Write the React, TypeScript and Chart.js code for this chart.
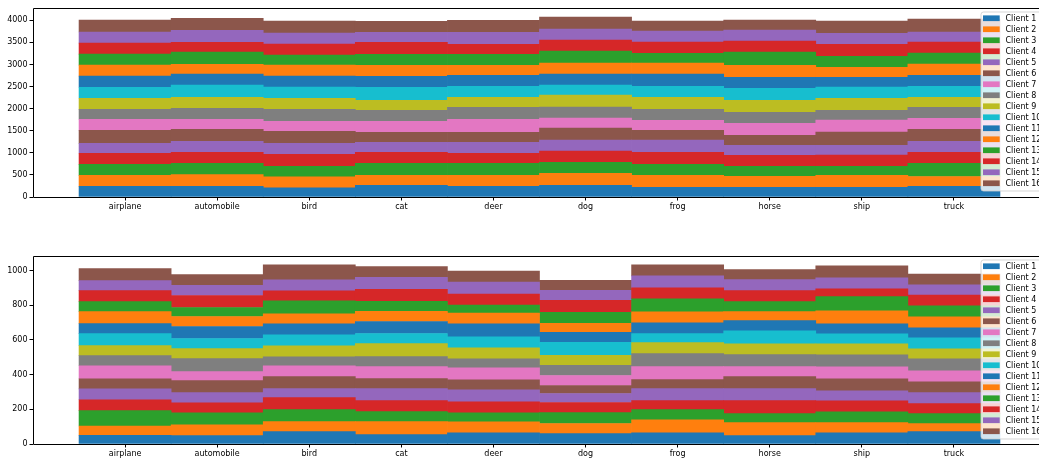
import React, { useEffect, useRef } from 'react';
import { Chart, registerables } from 'chart.js';

Chart.register(...registerables);

const CATEGORIES = ['airplane', 'automobile', 'bird', 'cat', 'deer', 'dog', 'frog', 'horse', 'ship', 'truck'];
const CLIENT_LABELS = Array.from({ length: 16 }, (_, i) => `Client ${i + 1}`);
const COLORS = [
  '#1f77b4', '#ff7f0e', '#2ca02c', '#d62728', '#9467bd', '#8c564b', '#e377c2', '#7f7f7f',
  '#bcbd22', '#17becf', '#1f77b4', '#ff7f0e', '#2ca02c', '#d62728', '#9467bd', '#8c564b',
];

// Upper chart (train split): one array per client, values per category
const TRAIN_C1 = [240, 240, 205, 265, 240, 265, 220, 220, 220, 240];
const TRAIN_C2 = [250, 265, 250, 225, 250, 272, 272, 250, 272, 225];
const TRAIN_C3 = [250, 257, 240, 272, 272, 250, 250, 225, 205, 295];
const TRAIN_C4 = [250, 250, 272, 250, 225, 250, 272, 250, 250, 250];
const TRAIN_C5 = [225, 250, 250, 225, 250, 250, 272, 225, 225, 250];
const TRAIN_C6 = [295, 272, 272, 225, 225, 272, 225, 225, 295, 272];
const TRAIN_C7 = [250, 225, 225, 250, 295, 225, 225, 272, 272, 250];
const TRAIN_C8 = [225, 250, 272, 250, 272, 250, 250, 250, 225, 250];
const TRAIN_C9 = [250, 250, 250, 225, 225, 272, 272, 272, 272, 225];
const TRAIN_C10 = [250, 272, 250, 295, 250, 225, 250, 272, 250, 250];
const TRAIN_C11 = [250, 250, 250, 250, 250, 250, 272, 250, 225, 250];
const TRAIN_C12 = [250, 225, 250, 250, 225, 250, 250, 272, 225, 250];
const TRAIN_C13 = [250, 272, 225, 250, 250, 272, 225, 295, 250, 250];
const TRAIN_C14 = [250, 225, 250, 272, 225, 250, 250, 250, 272, 250];
const TRAIN_C15 = [250, 272, 250, 225, 272, 250, 250, 250, 250, 225];
const TRAIN_C16 = [272, 272, 272, 250, 272, 272, 225, 225, 272, 295];

// Lower chart (test split)
const TEST_C1 = [50, 48, 71, 54, 65, 60, 65, 48, 65, 71];
const TEST_C2 = [54, 63, 58, 75, 63, 58, 75, 75, 58, 46];
const TEST_C3 = [88, 69, 69, 58, 52, 63, 58, 52, 63, 58];
const TEST_C4 = [63, 58, 69, 63, 63, 58, 52, 75, 63, 58];
const TEST_C5 = [63, 58, 52, 69, 69, 52, 69, 69, 58, 63];
const TEST_C6 = [58, 69, 69, 58, 58, 46, 52, 69, 69, 63];
const TEST_C7 = [75, 52, 63, 69, 69, 58, 75, 58, 69, 63];
const TEST_C8 = [58, 75, 52, 58, 52, 58, 75, 69, 69, 69];
const TEST_C9 = [58, 58, 63, 75, 63, 58, 63, 63, 63, 58];
const TEST_C10 = [69, 58, 63, 58, 63, 75, 52, 75, 58, 63];
const TEST_C11 = [58, 69, 63, 69, 75, 58, 63, 58, 58, 58];
const TEST_C12 = [69, 58, 58, 58, 63, 52, 63, 52, 75, 63];
const TEST_C13 = [58, 52, 75, 58, 46, 63, 75, 58, 81, 63];
const TEST_C14 = [63, 69, 58, 69, 63, 69, 63, 63, 46, 63];
const TEST_C15 = [58, 58, 63, 69, 69, 58, 69, 63, 63, 58];
const TEST_C16 = [69, 63, 86, 63, 63, 58, 63, 58, 69, 63];

const TRAIN_SERIES = [
  TRAIN_C1, TRAIN_C2, TRAIN_C3, TRAIN_C4, TRAIN_C5, TRAIN_C6, TRAIN_C7, TRAIN_C8,
  TRAIN_C9, TRAIN_C10, TRAIN_C11, TRAIN_C12, TRAIN_C13, TRAIN_C14, TRAIN_C15, TRAIN_C16,
];
const TEST_SERIES = [
  TEST_C1, TEST_C2, TEST_C3, TEST_C4, TEST_C5, TEST_C6, TEST_C7, TEST_C8,
  TEST_C9, TEST_C10, TEST_C11, TEST_C12, TEST_C13, TEST_C14, TEST_C15, TEST_C16,
];

const TRAIN_Y_TICKS = [0, 500, 1000, 1500, 2000, 2500, 3000, 3500, 4000];
const TEST_Y_TICKS = [0, 200, 400, 600, 800, 1000];

const FONT = 'DejaVu Sans';
const CANVAS_W = 1050;

type Props = {
  series: number[][];
  yTicks: number[];
  top: number;
  height: number;
  padTop: number;
  areaBottom: number;
};

function StackedChart({ series, yTicks, top, height, padTop, areaBottom }: Props) {
  const ref = useRef<HTMLCanvasElement | null>(null);

  useEffect(() => {
    if (!ref.current) return;
    const totals = CATEGORIES.map((_, i) => series.reduce((s, arr) => s + arr[i], 0));
    const yMax = Math.max(...totals) * 1.05;

    const framePlugin = {
      id: 'frameAndLegend',
      afterDraw(chart: any) {
        const { ctx, chartArea } = chart;
        const { left, right, top: t, bottom } = chartArea;
        ctx.save();
        ctx.strokeStyle = '#000';
        ctx.lineWidth = 1;
        ctx.beginPath();
        ctx.moveTo(Math.round(left) + 0.5, Math.round(t) + 0.5);
        ctx.lineTo(Math.round(left) + 0.5, Math.round(bottom) + 0.5);
        ctx.lineTo(Math.round(right) + 0.5, Math.round(bottom) + 0.5);
        ctx.lineTo(Math.round(right) + 0.5, Math.round(t) + 0.5);
        ctx.closePath();
        ctx.stroke();

        // legend (upper right, inside axes)
        const bx = right - 65;
        const by = t + 4;
        const bw = 61;
        const bh = 179;
        const r = 2.5;
        ctx.beginPath();
        ctx.moveTo(bx + r, by);
        ctx.lineTo(bx + bw - r, by);
        ctx.quadraticCurveTo(bx + bw, by, bx + bw, by + r);
        ctx.lineTo(bx + bw, by + bh - r);
        ctx.quadraticCurveTo(bx + bw, by + bh, bx + bw - r, by + bh);
        ctx.lineTo(bx + r, by + bh);
        ctx.quadraticCurveTo(bx, by + bh, bx, by + bh - r);
        ctx.lineTo(bx, by + r);
        ctx.quadraticCurveTo(bx, by, bx + r, by);
        ctx.closePath();
        ctx.fillStyle = 'rgba(255,255,255,0.8)';
        ctx.fill();
        ctx.strokeStyle = 'rgba(204,204,204,0.8)';
        ctx.stroke();

        ctx.font = `8px "${FONT}"`;
        ctx.textBaseline = 'middle';
        ctx.textAlign = 'left';
        CLIENT_LABELS.forEach((label, i) => {
          const cy = t + 10.2 + 11 * i;
          ctx.fillStyle = COLORS[i];
          ctx.fillRect(bx + 2, cy - 2.8, 16.7, 5.7);
          ctx.fillStyle = '#000';
          ctx.fillText(label, bx + 24.5, cy + 0.5);
        });
        ctx.restore();
      },
    };

    const chart = new Chart(ref.current, {
      type: 'bar',
      data: {
        datasets: series.map((arr, k) => ({
          label: CLIENT_LABELS[k],
          data: arr.map((v, i) => ({ x: i, y: v })),
          backgroundColor: COLORS[k],
          borderWidth: 0,
          barPercentage: 1,
          categoryPercentage: 1,
        })),
      },
      options: {
        responsive: false,
        animation: false,
        devicePixelRatio: 1,
        layout: { padding: { top: padTop, right: 4, left: 0, bottom: 0 } },
        plugins: { legend: { display: false }, tooltip: { enabled: false } },
        scales: {
          x: {
            type: 'linear',
            min: -1,
            max: 10,
            stacked: true,
            offset: false,
            border: { display: false },
            grid: {
              display: true,
              offset: false,
              drawOnChartArea: false,
              drawTicks: true,
              tickLength: 3.5,
              color: '#000',
              lineWidth: 1,
            },
            ticks: {
              autoSkip: false,
              maxRotation: 0,
              minRotation: 0,
              padding: 2,
              color: '#000',
              font: { family: FONT, size: 8 },
              callback: (v: any) => CATEGORIES[v as number] ?? '',
            },
            afterBuildTicks: (s: any) => {
              s.ticks = CATEGORIES.map((_, i) => ({ value: i }));
            },
            afterFit: (s: any) => {
              s.height = height - areaBottom;
            },
          },
          y: {
            min: 0,
            max: yMax,
            stacked: true,
            border: { display: false },
            grid: {
              display: true,
              offset: false,
              drawOnChartArea: false,
              drawTicks: true,
              tickLength: 3.5,
              color: '#000',
              lineWidth: 1,
            },
            ticks: {
              padding: 2,
              color: '#000',
              font: { family: FONT, size: 8 },
              callback: (v: any) => String(v),
            },
            afterBuildTicks: (s: any) => {
              s.ticks = yTicks.map((v) => ({ value: v }));
            },
            afterFit: (s: any) => {
              s.width = 33;
            },
          },
        },
      },
      plugins: [framePlugin],
    } as any);

    return () => chart.destroy();
  }, [series, yTicks, height, padTop, areaBottom]);

  return (
    <canvas
      ref={ref}
      width={CANVAS_W}
      height={height}
      style={{ position: 'absolute', left: 0, top, width: CANVAS_W, height }}
    />
  );
}

export default function App() {
  return (
    <div
      style={{
        position: 'fixed',
        left: 0,
        top: 0,
        width: 1039,
        height: 459,
        overflow: 'hidden',
        background: '#fff',
      }}
    >
      <StackedChart series={TRAIN_SERIES} yTicks={TRAIN_Y_TICKS} top={0} height={230} padTop={8} areaBottom={197} />
      <StackedChart series={TEST_SERIES} yTicks={TEST_Y_TICKS} top={230} height={229} padTop={26} areaBottom={214} />
    </div>
  );
}
